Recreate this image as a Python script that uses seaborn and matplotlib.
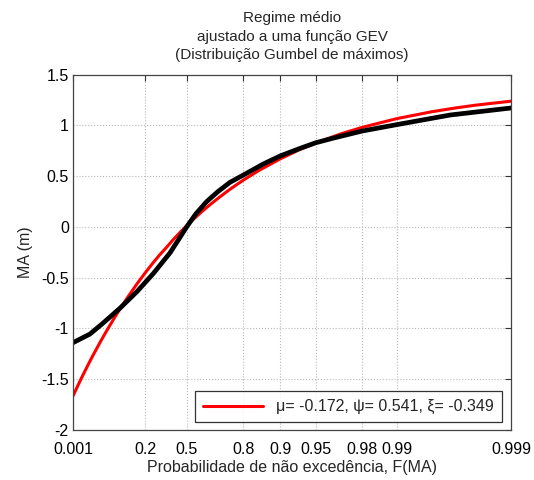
import numpy as np
import pandas as pd
import matplotlib
matplotlib.use("Agg")
import matplotlib.pyplot as plt
import seaborn as sns

# ---- data ----
red_F = [0.001, 0.002, 0.003, 0.005, 0.0074, 0.01, 0.02, 0.03, 0.05, 0.069, 0.1, 0.15,
         0.2, 0.25, 0.3, 0.352, 0.4, 0.45, 0.5, 0.55, 0.6, 0.65, 0.7, 0.75, 0.8, 0.85,
         0.9, 0.93, 0.95, 0.97, 0.98, 0.99, 0.995, 0.997, 0.998, 0.999]
red_y = [-1.665, -1.555, -1.486, -1.396, -1.322, -1.263, -1.117, -1.024, -0.895, -0.807,
         -0.696, -0.560, -0.452, -0.359, -0.276, -0.200, -0.126, -0.055, 0.014, 0.083,
         0.153, 0.223, 0.296, 0.375, 0.460, 0.556, 0.671, 0.758, 0.828, 0.920, 0.981,
         1.067, 1.134, 1.174, 1.201, 1.239]

blk_F = [0.001, 0.0074, 0.0236, 0.0688, 0.148, 0.255, 0.377, 0.44, 0.498, 0.56, 0.628,
         0.69, 0.748, 0.8, 0.862, 0.9, 0.932, 0.95, 0.9645, 0.98, 0.99, 0.9966, 0.999]
blk_y = [-1.14, -1.055, -0.945, -0.80, -0.64, -0.459, -0.255, -0.125, 0.0, 0.128, 0.25,
         0.348, 0.44, 0.51, 0.62, 0.70, 0.775, 0.83, 0.875, 0.945, 1.008, 1.103, 1.172]

xtick_vals = [0.001, 0.2, 0.5, 0.8, 0.9, 0.95, 0.98, 0.99, 0.999]
xtick_labels = ['0.001', '0.2', '0.5', '0.8', '0.9', '0.95', '0.98', '0.99', '0.999']
ytick_vals = [-2, -1.5, -1, -0.5, 0, 0.5, 1, 1.5]
ytick_labels = ['-2', '-1.5', '-1', '-0.5', '0', '0.5', '1', '1.5']

legend_label = "\u03bc= -0.172, \u03c8= 0.541, \u03be= -0.349"
title = "Regime médio\najustado a uma função GEV\n(Distribuição Gumbel de máximos)"

sns.set_style("white")
plt.rcParams['font.family'] = ['Liberation Sans', 'DejaVu Sans']

fig = plt.figure(figsize=(5.34, 4.8), dpi=100)
ax = fig.add_axes([0.1367, 0.1042, 0.8203, 0.7402])


def fwd(F):
    F = np.clip(np.asarray(F, dtype=float), 1e-12, 1 - 1e-12)
    return -np.log(-np.log(F))


def inv(z):
    return np.exp(-np.exp(-np.asarray(z, dtype=float)))


ax.set_xscale('function', functions=(fwd, inv))

red_df = pd.DataFrame({'F': red_F, 'y': red_y})
blk_df = pd.DataFrame({'F': blk_F, 'y': blk_y})

sns.lineplot(data=red_df, x='F', y='y', ax=ax, color='#ff0000', lw=2.2,
             label=legend_label, sort=True)
sns.lineplot(data=blk_df, x='F', y='y', ax=ax, color='black', lw=3.4,
             label='_nolegend_', sort=True)
for ln in ax.lines:
    ln.set_solid_joinstyle('round')
    ln.set_solid_capstyle('round')

ax.set_xlim(0.001, 0.999)
ax.set_ylim(-2, 1.5)
ax.set_xticks(xtick_vals)
ax.set_xticklabels(xtick_labels)
ax.set_yticks(ytick_vals)
ax.set_yticklabels(ytick_labels)
ax.xaxis.set_minor_locator(matplotlib.ticker.NullLocator())

ax.grid(True, color='#b8b8b8', linestyle=':', linewidth=0.8)
ax.tick_params(direction='in', top=True, right=True, length=4, width=0.8,
               labelsize=11.5, colors='#333333', labelcolor='black')
ax.tick_params(axis='x', pad=9)
ax.tick_params(axis='y', pad=3)
for s in ax.spines.values():
    s.set_color('#444444')
    s.set_linewidth(0.9)

ax.set_xlabel("Probabilidade de não excedência, F(MA)", fontsize=11.5, labelpad=2)
ax.set_ylabel("MA (m)", fontsize=11.5, labelpad=6)
ax.set_title(title, fontsize=11, linespacing=1.38, pad=11.5)

leg = ax.legend(loc='lower right', fontsize=11.5, frameon=True, fancybox=False,
                edgecolor='black', handlelength=3.8, borderpad=0.5,
                borderaxespad=0, bbox_to_anchor=(0.979, 0.022))
leg.get_frame().set_linewidth(0.9)

fig.savefig("out.png", dpi=100)
